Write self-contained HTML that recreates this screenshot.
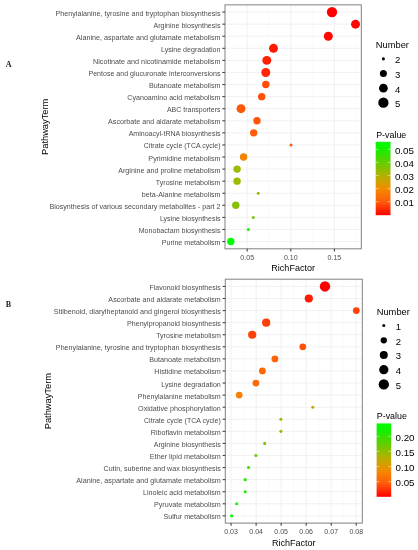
<!DOCTYPE html>
<html><head><meta charset="utf-8"><style>
html,body{margin:0;padding:0;background:#fff;width:418px;height:550px;overflow:hidden}
svg{display:block;filter:blur(0.35px)}

</style></head><body>
<svg width="418" height="550" viewBox="0 0 418 550" font-family='"Liberation Sans", sans-serif'>
<rect width="418" height="550" fill="#fff"/>
<line x1="269.00" y1="4.85" x2="269.00" y2="248.8" stroke="#f6f6f6" stroke-width="0.6"/>
<line x1="312.60" y1="4.85" x2="312.60" y2="248.8" stroke="#f6f6f6" stroke-width="0.6"/>
<line x1="356.20" y1="4.85" x2="356.20" y2="248.8" stroke="#f6f6f6" stroke-width="0.6"/>
<line x1="247.20" y1="4.85" x2="247.20" y2="248.8" stroke="#efefef" stroke-width="0.9"/>
<line x1="290.80" y1="4.85" x2="290.80" y2="248.8" stroke="#efefef" stroke-width="0.9"/>
<line x1="334.40" y1="4.85" x2="334.40" y2="248.8" stroke="#efefef" stroke-width="0.9"/>
<line x1="225.0" y1="12.10" x2="361.3" y2="12.10" stroke="#efefef" stroke-width="0.9"/>
<line x1="225.0" y1="24.17" x2="361.3" y2="24.17" stroke="#efefef" stroke-width="0.9"/>
<line x1="225.0" y1="36.25" x2="361.3" y2="36.25" stroke="#efefef" stroke-width="0.9"/>
<line x1="225.0" y1="48.33" x2="361.3" y2="48.33" stroke="#efefef" stroke-width="0.9"/>
<line x1="225.0" y1="60.40" x2="361.3" y2="60.40" stroke="#efefef" stroke-width="0.9"/>
<line x1="225.0" y1="72.48" x2="361.3" y2="72.48" stroke="#efefef" stroke-width="0.9"/>
<line x1="225.0" y1="84.56" x2="361.3" y2="84.56" stroke="#efefef" stroke-width="0.9"/>
<line x1="225.0" y1="96.63" x2="361.3" y2="96.63" stroke="#efefef" stroke-width="0.9"/>
<line x1="225.0" y1="108.71" x2="361.3" y2="108.71" stroke="#efefef" stroke-width="0.9"/>
<line x1="225.0" y1="120.79" x2="361.3" y2="120.79" stroke="#efefef" stroke-width="0.9"/>
<line x1="225.0" y1="132.86" x2="361.3" y2="132.86" stroke="#efefef" stroke-width="0.9"/>
<line x1="225.0" y1="144.94" x2="361.3" y2="144.94" stroke="#efefef" stroke-width="0.9"/>
<line x1="225.0" y1="157.02" x2="361.3" y2="157.02" stroke="#efefef" stroke-width="0.9"/>
<line x1="225.0" y1="169.09" x2="361.3" y2="169.09" stroke="#efefef" stroke-width="0.9"/>
<line x1="225.0" y1="181.17" x2="361.3" y2="181.17" stroke="#efefef" stroke-width="0.9"/>
<line x1="225.0" y1="193.25" x2="361.3" y2="193.25" stroke="#efefef" stroke-width="0.9"/>
<line x1="225.0" y1="205.32" x2="361.3" y2="205.32" stroke="#efefef" stroke-width="0.9"/>
<line x1="225.0" y1="217.40" x2="361.3" y2="217.40" stroke="#efefef" stroke-width="0.9"/>
<line x1="225.0" y1="229.48" x2="361.3" y2="229.48" stroke="#efefef" stroke-width="0.9"/>
<line x1="225.0" y1="241.55" x2="361.3" y2="241.55" stroke="#efefef" stroke-width="0.9"/>
<circle cx="332.00" cy="12.10" r="5.20" fill="#FF0000"/>
<circle cx="355.50" cy="24.17" r="4.47" fill="#FF0501"/>
<circle cx="328.30" cy="36.25" r="4.47" fill="#FF0801"/>
<circle cx="273.50" cy="48.33" r="4.47" fill="#FF1903"/>
<circle cx="266.80" cy="60.40" r="4.47" fill="#FF1F03"/>
<circle cx="265.80" cy="72.48" r="4.47" fill="#FF2404"/>
<circle cx="265.80" cy="84.56" r="3.70" fill="#FF4C08"/>
<circle cx="261.70" cy="96.63" r="3.70" fill="#FF5109"/>
<circle cx="241.00" cy="108.71" r="4.47" fill="#FF560A"/>
<circle cx="257.00" cy="120.79" r="3.70" fill="#FF560A"/>
<circle cx="253.70" cy="132.86" r="3.70" fill="#FF5B0A"/>
<circle cx="291.00" cy="144.94" r="1.50" fill="#FF5B0A"/>
<circle cx="243.60" cy="157.02" r="3.70" fill="#F68301"/>
<circle cx="237.10" cy="169.09" r="3.70" fill="#9FB800"/>
<circle cx="237.10" cy="181.17" r="3.70" fill="#9FB800"/>
<circle cx="258.20" cy="193.25" r="1.50" fill="#96BB00"/>
<circle cx="235.80" cy="205.32" r="3.70" fill="#89C000"/>
<circle cx="253.30" cy="217.40" r="1.50" fill="#7CC400"/>
<circle cx="248.30" cy="229.48" r="1.50" fill="#1BED00"/>
<circle cx="230.80" cy="241.55" r="3.70" fill="#00FF00"/>
<rect x="225.0" y="4.85" width="136.30" height="243.95" fill="none" stroke="#808080" stroke-width="1"/>
<line x1="222.30" y1="12.10" x2="225.0" y2="12.10" stroke="#444444" stroke-width="1.1"/>
<text x="220.50" y="15.60" font-size="6.45" fill="#4d4d4d" text-anchor="end" textLength="164.93" lengthAdjust="spacingAndGlyphs">Phenylalanine, tyrosine and tryptophan biosynthesis</text>
<line x1="222.30" y1="24.17" x2="225.0" y2="24.17" stroke="#444444" stroke-width="1.1"/>
<text x="220.50" y="27.67" font-size="6.45" fill="#4d4d4d" text-anchor="end" textLength="67.09" lengthAdjust="spacingAndGlyphs">Arginine biosynthesis</text>
<line x1="222.30" y1="36.25" x2="225.0" y2="36.25" stroke="#444444" stroke-width="1.1"/>
<text x="220.50" y="39.75" font-size="6.45" fill="#4d4d4d" text-anchor="end" textLength="144.51" lengthAdjust="spacingAndGlyphs">Alanine, aspartate and glutamate metabolism</text>
<line x1="222.30" y1="48.33" x2="225.0" y2="48.33" stroke="#444444" stroke-width="1.1"/>
<text x="220.50" y="51.83" font-size="6.45" fill="#4d4d4d" text-anchor="end" textLength="59.53" lengthAdjust="spacingAndGlyphs">Lysine degradation</text>
<line x1="222.30" y1="60.40" x2="225.0" y2="60.40" stroke="#444444" stroke-width="1.1"/>
<text x="220.50" y="63.90" font-size="6.45" fill="#4d4d4d" text-anchor="end" textLength="127.47" lengthAdjust="spacingAndGlyphs">Nicotinate and nicotinamide metabolism</text>
<line x1="222.30" y1="72.48" x2="225.0" y2="72.48" stroke="#444444" stroke-width="1.1"/>
<text x="220.50" y="75.98" font-size="6.45" fill="#4d4d4d" text-anchor="end" textLength="132.07" lengthAdjust="spacingAndGlyphs">Pentose and glucuronate interconversions</text>
<line x1="222.30" y1="84.56" x2="225.0" y2="84.56" stroke="#444444" stroke-width="1.1"/>
<text x="220.50" y="88.06" font-size="6.45" fill="#4d4d4d" text-anchor="end" textLength="71.48" lengthAdjust="spacingAndGlyphs">Butanoate metabolism</text>
<line x1="222.30" y1="96.63" x2="225.0" y2="96.63" stroke="#444444" stroke-width="1.1"/>
<text x="220.50" y="100.13" font-size="6.45" fill="#4d4d4d" text-anchor="end" textLength="93.18" lengthAdjust="spacingAndGlyphs">Cyanoamino acid metabolism</text>
<line x1="222.30" y1="108.71" x2="225.0" y2="108.71" stroke="#444444" stroke-width="1.1"/>
<text x="220.50" y="112.21" font-size="6.45" fill="#4d4d4d" text-anchor="end" textLength="53.52" lengthAdjust="spacingAndGlyphs">ABC transporters</text>
<line x1="222.30" y1="120.79" x2="225.0" y2="120.79" stroke="#444444" stroke-width="1.1"/>
<text x="220.50" y="124.29" font-size="6.45" fill="#4d4d4d" text-anchor="end" textLength="112.41" lengthAdjust="spacingAndGlyphs">Ascorbate and aldarate metabolism</text>
<line x1="222.30" y1="132.86" x2="225.0" y2="132.86" stroke="#444444" stroke-width="1.1"/>
<text x="220.50" y="136.36" font-size="6.45" fill="#4d4d4d" text-anchor="end" textLength="91.82" lengthAdjust="spacingAndGlyphs">Aminoacyl-tRNA biosynthesis</text>
<line x1="222.30" y1="144.94" x2="225.0" y2="144.94" stroke="#444444" stroke-width="1.1"/>
<text x="220.50" y="148.44" font-size="6.45" fill="#4d4d4d" text-anchor="end" textLength="76.73" lengthAdjust="spacingAndGlyphs">Citrate cycle (TCA cycle)</text>
<line x1="222.30" y1="157.02" x2="225.0" y2="157.02" stroke="#444444" stroke-width="1.1"/>
<text x="220.50" y="160.52" font-size="6.45" fill="#4d4d4d" text-anchor="end" textLength="72.15" lengthAdjust="spacingAndGlyphs">Pyrimidine metabolism</text>
<line x1="222.30" y1="169.09" x2="225.0" y2="169.09" stroke="#444444" stroke-width="1.1"/>
<text x="220.50" y="172.59" font-size="6.45" fill="#4d4d4d" text-anchor="end" textLength="102.31" lengthAdjust="spacingAndGlyphs">Arginine and proline metabolism</text>
<line x1="222.30" y1="181.17" x2="225.0" y2="181.17" stroke="#444444" stroke-width="1.1"/>
<text x="220.50" y="184.67" font-size="6.45" fill="#4d4d4d" text-anchor="end" textLength="64.61" lengthAdjust="spacingAndGlyphs">Tyrosine metabolism</text>
<line x1="222.30" y1="193.25" x2="225.0" y2="193.25" stroke="#444444" stroke-width="1.1"/>
<text x="220.50" y="196.75" font-size="6.45" fill="#4d4d4d" text-anchor="end" textLength="78.62" lengthAdjust="spacingAndGlyphs">beta-Alanine metabolism</text>
<line x1="222.30" y1="205.32" x2="225.0" y2="205.32" stroke="#444444" stroke-width="1.1"/>
<text x="220.50" y="208.82" font-size="6.45" fill="#4d4d4d" text-anchor="end" textLength="171.09" lengthAdjust="spacingAndGlyphs">Biosynthesis of various secondary metabolites - part 2</text>
<line x1="222.30" y1="217.40" x2="225.0" y2="217.40" stroke="#444444" stroke-width="1.1"/>
<text x="220.50" y="220.90" font-size="6.45" fill="#4d4d4d" text-anchor="end" textLength="60.54" lengthAdjust="spacingAndGlyphs">Lysine biosynthesis</text>
<line x1="222.30" y1="229.48" x2="225.0" y2="229.48" stroke="#444444" stroke-width="1.1"/>
<text x="220.50" y="232.98" font-size="6.45" fill="#4d4d4d" text-anchor="end" textLength="81.80" lengthAdjust="spacingAndGlyphs">Monobactam biosynthesis</text>
<line x1="222.30" y1="241.55" x2="225.0" y2="241.55" stroke="#444444" stroke-width="1.1"/>
<text x="220.50" y="245.05" font-size="6.45" fill="#4d4d4d" text-anchor="end" textLength="58.73" lengthAdjust="spacingAndGlyphs">Purine metabolism</text>
<line x1="247.20" y1="248.8" x2="247.20" y2="251.50" stroke="#444444" stroke-width="1.1"/>
<text x="247.20" y="260.10" font-size="6.45" fill="#4d4d4d" text-anchor="middle" textLength="13.68" lengthAdjust="spacingAndGlyphs">0.05</text>
<line x1="290.80" y1="248.8" x2="290.80" y2="251.50" stroke="#444444" stroke-width="1.1"/>
<text x="290.80" y="260.10" font-size="6.45" fill="#4d4d4d" text-anchor="middle" textLength="13.68" lengthAdjust="spacingAndGlyphs">0.10</text>
<line x1="334.40" y1="248.8" x2="334.40" y2="251.50" stroke="#444444" stroke-width="1.1"/>
<text x="334.40" y="260.10" font-size="6.45" fill="#4d4d4d" text-anchor="middle" textLength="13.68" lengthAdjust="spacingAndGlyphs">0.15</text>
<text x="293.15" y="271.30" font-size="8.40" fill="#000" text-anchor="middle" textLength="43.61" lengthAdjust="spacingAndGlyphs">RichFactor</text>
<g transform="translate(47.70,126.83) rotate(-90)">
<text x="0.00" y="0.00" font-size="8.40" fill="#000" text-anchor="middle" textLength="56.36" lengthAdjust="spacingAndGlyphs">PathwayTerm</text>
</g>
<line x1="243.62" y1="279.2" x2="243.62" y2="523.1" stroke="#f6f6f6" stroke-width="0.6"/>
<line x1="268.64" y1="279.2" x2="268.64" y2="523.1" stroke="#f6f6f6" stroke-width="0.6"/>
<line x1="293.68" y1="279.2" x2="293.68" y2="523.1" stroke="#f6f6f6" stroke-width="0.6"/>
<line x1="318.70" y1="279.2" x2="318.70" y2="523.1" stroke="#f6f6f6" stroke-width="0.6"/>
<line x1="343.74" y1="279.2" x2="343.74" y2="523.1" stroke="#f6f6f6" stroke-width="0.6"/>
<line x1="231.10" y1="279.2" x2="231.10" y2="523.1" stroke="#efefef" stroke-width="0.9"/>
<line x1="256.13" y1="279.2" x2="256.13" y2="523.1" stroke="#efefef" stroke-width="0.9"/>
<line x1="281.16" y1="279.2" x2="281.16" y2="523.1" stroke="#efefef" stroke-width="0.9"/>
<line x1="306.19" y1="279.2" x2="306.19" y2="523.1" stroke="#efefef" stroke-width="0.9"/>
<line x1="331.22" y1="279.2" x2="331.22" y2="523.1" stroke="#efefef" stroke-width="0.9"/>
<line x1="356.25" y1="279.2" x2="356.25" y2="523.1" stroke="#efefef" stroke-width="0.9"/>
<line x1="225.3" y1="286.44" x2="362.3" y2="286.44" stroke="#efefef" stroke-width="0.9"/>
<line x1="225.3" y1="298.52" x2="362.3" y2="298.52" stroke="#efefef" stroke-width="0.9"/>
<line x1="225.3" y1="310.59" x2="362.3" y2="310.59" stroke="#efefef" stroke-width="0.9"/>
<line x1="225.3" y1="322.67" x2="362.3" y2="322.67" stroke="#efefef" stroke-width="0.9"/>
<line x1="225.3" y1="334.74" x2="362.3" y2="334.74" stroke="#efefef" stroke-width="0.9"/>
<line x1="225.3" y1="346.82" x2="362.3" y2="346.82" stroke="#efefef" stroke-width="0.9"/>
<line x1="225.3" y1="358.89" x2="362.3" y2="358.89" stroke="#efefef" stroke-width="0.9"/>
<line x1="225.3" y1="370.96" x2="362.3" y2="370.96" stroke="#efefef" stroke-width="0.9"/>
<line x1="225.3" y1="383.04" x2="362.3" y2="383.04" stroke="#efefef" stroke-width="0.9"/>
<line x1="225.3" y1="395.11" x2="362.3" y2="395.11" stroke="#efefef" stroke-width="0.9"/>
<line x1="225.3" y1="407.19" x2="362.3" y2="407.19" stroke="#efefef" stroke-width="0.9"/>
<line x1="225.3" y1="419.26" x2="362.3" y2="419.26" stroke="#efefef" stroke-width="0.9"/>
<line x1="225.3" y1="431.34" x2="362.3" y2="431.34" stroke="#efefef" stroke-width="0.9"/>
<line x1="225.3" y1="443.41" x2="362.3" y2="443.41" stroke="#efefef" stroke-width="0.9"/>
<line x1="225.3" y1="455.48" x2="362.3" y2="455.48" stroke="#efefef" stroke-width="0.9"/>
<line x1="225.3" y1="467.56" x2="362.3" y2="467.56" stroke="#efefef" stroke-width="0.9"/>
<line x1="225.3" y1="479.63" x2="362.3" y2="479.63" stroke="#efefef" stroke-width="0.9"/>
<line x1="225.3" y1="491.71" x2="362.3" y2="491.71" stroke="#efefef" stroke-width="0.9"/>
<line x1="225.3" y1="503.78" x2="362.3" y2="503.78" stroke="#efefef" stroke-width="0.9"/>
<line x1="225.3" y1="515.86" x2="362.3" y2="515.86" stroke="#efefef" stroke-width="0.9"/>
<circle cx="325.00" cy="286.44" r="5.20" fill="#FF0000"/>
<circle cx="308.80" cy="298.52" r="4.10" fill="#FF1903"/>
<circle cx="356.30" cy="310.59" r="3.40" fill="#FF4207"/>
<circle cx="266.20" cy="322.67" r="4.10" fill="#FF3D07"/>
<circle cx="252.20" cy="334.74" r="4.10" fill="#FF4207"/>
<circle cx="302.80" cy="346.82" r="3.40" fill="#FF5109"/>
<circle cx="274.90" cy="358.89" r="3.40" fill="#FD6608"/>
<circle cx="262.40" cy="370.96" r="3.40" fill="#FC6807"/>
<circle cx="255.90" cy="383.04" r="3.40" fill="#FB6B06"/>
<circle cx="239.20" cy="395.11" r="3.40" fill="#F78102"/>
<circle cx="312.80" cy="407.19" r="1.55" fill="#CEA100"/>
<circle cx="280.90" cy="419.26" r="1.55" fill="#96BB00"/>
<circle cx="280.90" cy="431.34" r="1.55" fill="#9FB800"/>
<circle cx="264.70" cy="443.41" r="1.55" fill="#84C100"/>
<circle cx="255.90" cy="455.48" r="1.55" fill="#61CE00"/>
<circle cx="248.50" cy="467.56" r="1.55" fill="#3EDD00"/>
<circle cx="245.20" cy="479.63" r="1.55" fill="#28E700"/>
<circle cx="245.20" cy="491.71" r="1.55" fill="#1BED00"/>
<circle cx="236.70" cy="503.78" r="1.55" fill="#0FF400"/>
<circle cx="231.70" cy="515.86" r="1.55" fill="#00FF00"/>
<rect x="225.3" y="279.2" width="137.00" height="243.90" fill="none" stroke="#808080" stroke-width="1"/>
<line x1="222.60" y1="286.44" x2="225.3" y2="286.44" stroke="#444444" stroke-width="1.1"/>
<text x="220.80" y="289.94" font-size="6.45" fill="#4d4d4d" text-anchor="end" textLength="71.34" lengthAdjust="spacingAndGlyphs">Flavonoid biosynthesis</text>
<line x1="222.60" y1="298.52" x2="225.3" y2="298.52" stroke="#444444" stroke-width="1.1"/>
<text x="220.80" y="302.02" font-size="6.45" fill="#4d4d4d" text-anchor="end" textLength="112.41" lengthAdjust="spacingAndGlyphs">Ascorbate and aldarate metabolism</text>
<line x1="222.60" y1="310.59" x2="225.3" y2="310.59" stroke="#444444" stroke-width="1.1"/>
<text x="220.80" y="314.09" font-size="6.45" fill="#4d4d4d" text-anchor="end" textLength="166.92" lengthAdjust="spacingAndGlyphs">Stilbenoid, diarylheptanoid and gingerol biosynthesis</text>
<line x1="222.60" y1="322.67" x2="225.3" y2="322.67" stroke="#444444" stroke-width="1.1"/>
<text x="220.80" y="326.17" font-size="6.45" fill="#4d4d4d" text-anchor="end" textLength="93.72" lengthAdjust="spacingAndGlyphs">Phenylpropanoid biosynthesis</text>
<line x1="222.60" y1="334.74" x2="225.3" y2="334.74" stroke="#444444" stroke-width="1.1"/>
<text x="220.80" y="338.24" font-size="6.45" fill="#4d4d4d" text-anchor="end" textLength="64.61" lengthAdjust="spacingAndGlyphs">Tyrosine metabolism</text>
<line x1="222.60" y1="346.82" x2="225.3" y2="346.82" stroke="#444444" stroke-width="1.1"/>
<text x="220.80" y="350.32" font-size="6.45" fill="#4d4d4d" text-anchor="end" textLength="164.93" lengthAdjust="spacingAndGlyphs">Phenylalanine, tyrosine and tryptophan biosynthesis</text>
<line x1="222.60" y1="358.89" x2="225.3" y2="358.89" stroke="#444444" stroke-width="1.1"/>
<text x="220.80" y="362.39" font-size="6.45" fill="#4d4d4d" text-anchor="end" textLength="71.48" lengthAdjust="spacingAndGlyphs">Butanoate metabolism</text>
<line x1="222.60" y1="370.96" x2="225.3" y2="370.96" stroke="#444444" stroke-width="1.1"/>
<text x="220.80" y="374.46" font-size="6.45" fill="#4d4d4d" text-anchor="end" textLength="66.41" lengthAdjust="spacingAndGlyphs">Histidine metabolism</text>
<line x1="222.60" y1="383.04" x2="225.3" y2="383.04" stroke="#444444" stroke-width="1.1"/>
<text x="220.80" y="386.54" font-size="6.45" fill="#4d4d4d" text-anchor="end" textLength="59.53" lengthAdjust="spacingAndGlyphs">Lysine degradation</text>
<line x1="222.60" y1="395.11" x2="225.3" y2="395.11" stroke="#444444" stroke-width="1.1"/>
<text x="220.80" y="398.61" font-size="6.45" fill="#4d4d4d" text-anchor="end" textLength="82.95" lengthAdjust="spacingAndGlyphs">Phenylalanine metabolism</text>
<line x1="222.60" y1="407.19" x2="225.3" y2="407.19" stroke="#444444" stroke-width="1.1"/>
<text x="220.80" y="410.69" font-size="6.45" fill="#4d4d4d" text-anchor="end" textLength="82.70" lengthAdjust="spacingAndGlyphs">Oxidative phosphorylation</text>
<line x1="222.60" y1="419.26" x2="225.3" y2="419.26" stroke="#444444" stroke-width="1.1"/>
<text x="220.80" y="422.76" font-size="6.45" fill="#4d4d4d" text-anchor="end" textLength="76.73" lengthAdjust="spacingAndGlyphs">Citrate cycle (TCA cycle)</text>
<line x1="222.60" y1="431.34" x2="225.3" y2="431.34" stroke="#444444" stroke-width="1.1"/>
<text x="220.80" y="434.84" font-size="6.45" fill="#4d4d4d" text-anchor="end" textLength="70.07" lengthAdjust="spacingAndGlyphs">Riboflavin metabolism</text>
<line x1="222.60" y1="443.41" x2="225.3" y2="443.41" stroke="#444444" stroke-width="1.1"/>
<text x="220.80" y="446.91" font-size="6.45" fill="#4d4d4d" text-anchor="end" textLength="67.09" lengthAdjust="spacingAndGlyphs">Arginine biosynthesis</text>
<line x1="222.60" y1="455.48" x2="225.3" y2="455.48" stroke="#444444" stroke-width="1.1"/>
<text x="220.80" y="458.98" font-size="6.45" fill="#4d4d4d" text-anchor="end" textLength="70.94" lengthAdjust="spacingAndGlyphs">Ether lipid metabolism</text>
<line x1="222.60" y1="467.56" x2="225.3" y2="467.56" stroke="#444444" stroke-width="1.1"/>
<text x="220.80" y="471.06" font-size="6.45" fill="#4d4d4d" text-anchor="end" textLength="117.27" lengthAdjust="spacingAndGlyphs">Cutin, suberine and wax biosynthesis</text>
<line x1="222.60" y1="479.63" x2="225.3" y2="479.63" stroke="#444444" stroke-width="1.1"/>
<text x="220.80" y="483.13" font-size="6.45" fill="#4d4d4d" text-anchor="end" textLength="144.51" lengthAdjust="spacingAndGlyphs">Alanine, aspartate and glutamate metabolism</text>
<line x1="222.60" y1="491.71" x2="225.3" y2="491.71" stroke="#444444" stroke-width="1.1"/>
<text x="220.80" y="495.21" font-size="6.45" fill="#4d4d4d" text-anchor="end" textLength="77.77" lengthAdjust="spacingAndGlyphs">Linoleic acid metabolism</text>
<line x1="222.60" y1="503.78" x2="225.3" y2="503.78" stroke="#444444" stroke-width="1.1"/>
<text x="220.80" y="507.28" font-size="6.45" fill="#4d4d4d" text-anchor="end" textLength="66.85" lengthAdjust="spacingAndGlyphs">Pyruvate metabolism</text>
<line x1="222.60" y1="515.86" x2="225.3" y2="515.86" stroke="#444444" stroke-width="1.1"/>
<text x="220.80" y="519.36" font-size="6.45" fill="#4d4d4d" text-anchor="end" textLength="57.39" lengthAdjust="spacingAndGlyphs">Sulfur metabolism</text>
<line x1="231.10" y1="523.1" x2="231.10" y2="525.80" stroke="#444444" stroke-width="1.1"/>
<text x="231.10" y="534.40" font-size="6.45" fill="#4d4d4d" text-anchor="middle" textLength="13.68" lengthAdjust="spacingAndGlyphs">0.03</text>
<line x1="256.13" y1="523.1" x2="256.13" y2="525.80" stroke="#444444" stroke-width="1.1"/>
<text x="256.13" y="534.40" font-size="6.45" fill="#4d4d4d" text-anchor="middle" textLength="13.68" lengthAdjust="spacingAndGlyphs">0.04</text>
<line x1="281.16" y1="523.1" x2="281.16" y2="525.80" stroke="#444444" stroke-width="1.1"/>
<text x="281.16" y="534.40" font-size="6.45" fill="#4d4d4d" text-anchor="middle" textLength="13.68" lengthAdjust="spacingAndGlyphs">0.05</text>
<line x1="306.19" y1="523.1" x2="306.19" y2="525.80" stroke="#444444" stroke-width="1.1"/>
<text x="306.19" y="534.40" font-size="6.45" fill="#4d4d4d" text-anchor="middle" textLength="13.68" lengthAdjust="spacingAndGlyphs">0.06</text>
<line x1="331.22" y1="523.1" x2="331.22" y2="525.80" stroke="#444444" stroke-width="1.1"/>
<text x="331.22" y="534.40" font-size="6.45" fill="#4d4d4d" text-anchor="middle" textLength="13.68" lengthAdjust="spacingAndGlyphs">0.07</text>
<line x1="356.25" y1="523.1" x2="356.25" y2="525.80" stroke="#444444" stroke-width="1.1"/>
<text x="356.25" y="534.40" font-size="6.45" fill="#4d4d4d" text-anchor="middle" textLength="13.68" lengthAdjust="spacingAndGlyphs">0.08</text>
<text x="293.80" y="545.60" font-size="8.40" fill="#000" text-anchor="middle" textLength="43.61" lengthAdjust="spacingAndGlyphs">RichFactor</text>
<g transform="translate(51.00,401.15) rotate(-90)">
<text x="0.00" y="0.00" font-size="8.40" fill="#000" text-anchor="middle" textLength="56.36" lengthAdjust="spacingAndGlyphs">PathwayTerm</text>
</g>
<text x="375.80" y="47.50" font-size="8.30" fill="#000" text-anchor="start" textLength="33.18" lengthAdjust="spacingAndGlyphs">Number</text>
<circle cx="383.40" cy="58.85" r="1.55" fill="#000"/>
<text x="394.90" y="63.15" font-size="8.80" fill="#000" text-anchor="start" textLength="5.32" lengthAdjust="spacingAndGlyphs">2</text>
<circle cx="383.40" cy="73.60" r="3.50" fill="#000"/>
<text x="394.90" y="77.90" font-size="8.80" fill="#000" text-anchor="start" textLength="5.32" lengthAdjust="spacingAndGlyphs">3</text>
<circle cx="383.40" cy="88.20" r="4.35" fill="#000"/>
<text x="394.90" y="92.50" font-size="8.80" fill="#000" text-anchor="start" textLength="5.32" lengthAdjust="spacingAndGlyphs">4</text>
<circle cx="383.40" cy="102.70" r="5.15" fill="#000"/>
<text x="394.90" y="107.00" font-size="8.80" fill="#000" text-anchor="start" textLength="5.32" lengthAdjust="spacingAndGlyphs">5</text>
<text x="376.20" y="137.90" font-size="8.30" fill="#000" text-anchor="start" textLength="30.11" lengthAdjust="spacingAndGlyphs">P-value</text>
<defs><linearGradient id="ga" x1="0" y1="0" x2="0" y2="1"><stop offset="0.000" stop-color="#00FF00"/><stop offset="0.025" stop-color="#05FB00"/><stop offset="0.050" stop-color="#0BF700"/><stop offset="0.075" stop-color="#10F400"/><stop offset="0.100" stop-color="#15F000"/><stop offset="0.125" stop-color="#1DEC00"/><stop offset="0.150" stop-color="#28E700"/><stop offset="0.175" stop-color="#33E200"/><stop offset="0.200" stop-color="#3EDD00"/><stop offset="0.225" stop-color="#49D900"/><stop offset="0.250" stop-color="#54D400"/><stop offset="0.275" stop-color="#5FCF00"/><stop offset="0.300" stop-color="#6ACB00"/><stop offset="0.325" stop-color="#75C700"/><stop offset="0.350" stop-color="#80C300"/><stop offset="0.375" stop-color="#8BBF00"/><stop offset="0.400" stop-color="#96BB00"/><stop offset="0.425" stop-color="#A1B700"/><stop offset="0.450" stop-color="#ACB300"/><stop offset="0.475" stop-color="#B7AE00"/><stop offset="0.500" stop-color="#C0A900"/><stop offset="0.525" stop-color="#C9A400"/><stop offset="0.550" stop-color="#D29E00"/><stop offset="0.575" stop-color="#DB9900"/><stop offset="0.600" stop-color="#E49400"/><stop offset="0.625" stop-color="#EE8E00"/><stop offset="0.650" stop-color="#F58900"/><stop offset="0.675" stop-color="#F78202"/><stop offset="0.700" stop-color="#F87B03"/><stop offset="0.725" stop-color="#F97404"/><stop offset="0.750" stop-color="#FB6E06"/><stop offset="0.775" stop-color="#FC6707"/><stop offset="0.800" stop-color="#FE6009"/><stop offset="0.825" stop-color="#FF590A"/><stop offset="0.850" stop-color="#FF4C08"/><stop offset="0.875" stop-color="#FF4007"/><stop offset="0.900" stop-color="#FF3306"/><stop offset="0.925" stop-color="#FF2604"/><stop offset="0.950" stop-color="#FF1903"/><stop offset="0.975" stop-color="#FF0D01"/><stop offset="1.000" stop-color="#FF0000"/></linearGradient></defs>
<rect x="375.7" y="141.8" width="14.80" height="73.40" fill="url(#ga)"/>
<line x1="375.7" y1="149.30" x2="378.66" y2="149.30" stroke="#fff" stroke-width="0.6" stroke-opacity="0.8"/>
<line x1="387.54" y1="149.30" x2="390.5" y2="149.30" stroke="#fff" stroke-width="0.6" stroke-opacity="0.8"/>
<text x="394.90" y="153.60" font-size="8.80" fill="#000" text-anchor="start" textLength="19.01" lengthAdjust="spacingAndGlyphs">0.05</text>
<line x1="375.7" y1="162.40" x2="378.66" y2="162.40" stroke="#fff" stroke-width="0.6" stroke-opacity="0.8"/>
<line x1="387.54" y1="162.40" x2="390.5" y2="162.40" stroke="#fff" stroke-width="0.6" stroke-opacity="0.8"/>
<text x="394.90" y="166.70" font-size="8.80" fill="#000" text-anchor="start" textLength="19.01" lengthAdjust="spacingAndGlyphs">0.04</text>
<line x1="375.7" y1="175.50" x2="378.66" y2="175.50" stroke="#fff" stroke-width="0.6" stroke-opacity="0.8"/>
<line x1="387.54" y1="175.50" x2="390.5" y2="175.50" stroke="#fff" stroke-width="0.6" stroke-opacity="0.8"/>
<text x="394.90" y="179.80" font-size="8.80" fill="#000" text-anchor="start" textLength="19.01" lengthAdjust="spacingAndGlyphs">0.03</text>
<line x1="375.7" y1="188.60" x2="378.66" y2="188.60" stroke="#fff" stroke-width="0.6" stroke-opacity="0.8"/>
<line x1="387.54" y1="188.60" x2="390.5" y2="188.60" stroke="#fff" stroke-width="0.6" stroke-opacity="0.8"/>
<text x="394.90" y="192.90" font-size="8.80" fill="#000" text-anchor="start" textLength="19.01" lengthAdjust="spacingAndGlyphs">0.02</text>
<line x1="375.7" y1="201.70" x2="378.66" y2="201.70" stroke="#fff" stroke-width="0.6" stroke-opacity="0.8"/>
<line x1="387.54" y1="201.70" x2="390.5" y2="201.70" stroke="#fff" stroke-width="0.6" stroke-opacity="0.8"/>
<text x="394.90" y="206.00" font-size="8.80" fill="#000" text-anchor="start" textLength="19.01" lengthAdjust="spacingAndGlyphs">0.01</text>
<text x="376.70" y="314.50" font-size="8.30" fill="#000" text-anchor="start" textLength="33.18" lengthAdjust="spacingAndGlyphs">Number</text>
<circle cx="383.80" cy="325.50" r="1.55" fill="#000"/>
<text x="395.80" y="329.90" font-size="8.80" fill="#000" text-anchor="start" textLength="5.32" lengthAdjust="spacingAndGlyphs">1</text>
<circle cx="383.80" cy="340.30" r="3.15" fill="#000"/>
<text x="395.80" y="344.70" font-size="8.80" fill="#000" text-anchor="start" textLength="5.32" lengthAdjust="spacingAndGlyphs">2</text>
<circle cx="383.80" cy="355.00" r="4.00" fill="#000"/>
<text x="395.80" y="359.40" font-size="8.80" fill="#000" text-anchor="start" textLength="5.32" lengthAdjust="spacingAndGlyphs">3</text>
<circle cx="383.80" cy="369.70" r="4.65" fill="#000"/>
<text x="395.80" y="374.10" font-size="8.80" fill="#000" text-anchor="start" textLength="5.32" lengthAdjust="spacingAndGlyphs">4</text>
<circle cx="383.80" cy="384.40" r="5.15" fill="#000"/>
<text x="395.80" y="388.80" font-size="8.80" fill="#000" text-anchor="start" textLength="5.32" lengthAdjust="spacingAndGlyphs">5</text>
<text x="376.80" y="419.30" font-size="8.30" fill="#000" text-anchor="start" textLength="30.11" lengthAdjust="spacingAndGlyphs">P-value</text>
<defs><linearGradient id="gb" x1="0" y1="0" x2="0" y2="1"><stop offset="0.000" stop-color="#00FF00"/><stop offset="0.025" stop-color="#05FB00"/><stop offset="0.050" stop-color="#0BF700"/><stop offset="0.075" stop-color="#10F400"/><stop offset="0.100" stop-color="#15F000"/><stop offset="0.125" stop-color="#1DEC00"/><stop offset="0.150" stop-color="#28E700"/><stop offset="0.175" stop-color="#33E200"/><stop offset="0.200" stop-color="#3EDD00"/><stop offset="0.225" stop-color="#49D900"/><stop offset="0.250" stop-color="#54D400"/><stop offset="0.275" stop-color="#5FCF00"/><stop offset="0.300" stop-color="#6ACB00"/><stop offset="0.325" stop-color="#75C700"/><stop offset="0.350" stop-color="#80C300"/><stop offset="0.375" stop-color="#8BBF00"/><stop offset="0.400" stop-color="#96BB00"/><stop offset="0.425" stop-color="#A1B700"/><stop offset="0.450" stop-color="#ACB300"/><stop offset="0.475" stop-color="#B7AE00"/><stop offset="0.500" stop-color="#C0A900"/><stop offset="0.525" stop-color="#C9A400"/><stop offset="0.550" stop-color="#D29E00"/><stop offset="0.575" stop-color="#DB9900"/><stop offset="0.600" stop-color="#E49400"/><stop offset="0.625" stop-color="#EE8E00"/><stop offset="0.650" stop-color="#F58900"/><stop offset="0.675" stop-color="#F78202"/><stop offset="0.700" stop-color="#F87B03"/><stop offset="0.725" stop-color="#F97404"/><stop offset="0.750" stop-color="#FB6E06"/><stop offset="0.775" stop-color="#FC6707"/><stop offset="0.800" stop-color="#FE6009"/><stop offset="0.825" stop-color="#FF590A"/><stop offset="0.850" stop-color="#FF4C08"/><stop offset="0.875" stop-color="#FF4007"/><stop offset="0.900" stop-color="#FF3306"/><stop offset="0.925" stop-color="#FF2604"/><stop offset="0.950" stop-color="#FF1903"/><stop offset="0.975" stop-color="#FF0D01"/><stop offset="1.000" stop-color="#FF0000"/></linearGradient></defs>
<rect x="376.6" y="423.4" width="14.60" height="73.40" fill="url(#gb)"/>
<line x1="376.6" y1="436.30" x2="379.52" y2="436.30" stroke="#fff" stroke-width="0.6" stroke-opacity="0.8"/>
<line x1="388.28" y1="436.30" x2="391.2" y2="436.30" stroke="#fff" stroke-width="0.6" stroke-opacity="0.8"/>
<text x="395.50" y="440.70" font-size="8.80" fill="#000" text-anchor="start" textLength="19.01" lengthAdjust="spacingAndGlyphs">0.20</text>
<line x1="376.6" y1="451.40" x2="379.52" y2="451.40" stroke="#fff" stroke-width="0.6" stroke-opacity="0.8"/>
<line x1="388.28" y1="451.40" x2="391.2" y2="451.40" stroke="#fff" stroke-width="0.6" stroke-opacity="0.8"/>
<text x="395.50" y="455.80" font-size="8.80" fill="#000" text-anchor="start" textLength="19.01" lengthAdjust="spacingAndGlyphs">0.15</text>
<line x1="376.6" y1="466.60" x2="379.52" y2="466.60" stroke="#fff" stroke-width="0.6" stroke-opacity="0.8"/>
<line x1="388.28" y1="466.60" x2="391.2" y2="466.60" stroke="#fff" stroke-width="0.6" stroke-opacity="0.8"/>
<text x="395.50" y="471.00" font-size="8.80" fill="#000" text-anchor="start" textLength="19.01" lengthAdjust="spacingAndGlyphs">0.10</text>
<line x1="376.6" y1="481.70" x2="379.52" y2="481.70" stroke="#fff" stroke-width="0.6" stroke-opacity="0.8"/>
<line x1="388.28" y1="481.70" x2="391.2" y2="481.70" stroke="#fff" stroke-width="0.6" stroke-opacity="0.8"/>
<text x="395.50" y="486.10" font-size="8.80" fill="#000" text-anchor="start" textLength="19.01" lengthAdjust="spacingAndGlyphs">0.05</text>
<text x="5.7" y="66.7" style="font-family:'Liberation Serif', serif" font-weight="bold" font-size="8" fill="#222">A</text>
<text x="5.7" y="306.7" style="font-family:'Liberation Serif', serif" font-weight="bold" font-size="8" fill="#222">B</text>
</svg>
</body></html>
